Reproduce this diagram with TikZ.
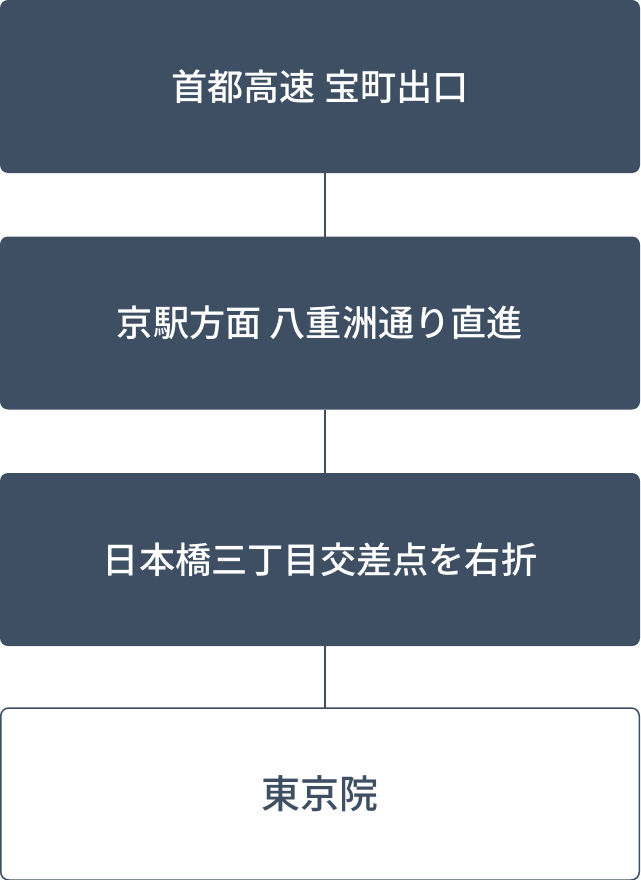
\documentclass[tikz,border=0pt]{standalone}
\usepackage{fontspec}
\newfontfamily\jpfont{Noto Sans CJK JP}[BoldFont={Noto Sans CJK JP Medium}]
\usetikzlibrary{positioning}
\definecolor{slate}{HTML}{3E4F63}
\begin{document}
\begin{tikzpicture}[x=1pt, y=1pt,
    stepbox/.style={fill=slate, text=white, rounded corners=8pt, minimum width=640pt,
      minimum height=173pt, inner sep=0pt, outer sep=0pt, font=\jpfont\bfseries\fontsize{36.2}{40}\selectfont},
    goalbox/.style={draw=slate, line width=1.5pt, fill=white, text=slate, rounded corners=8pt,
      minimum width=638.5pt, minimum height=172pt, inner sep=0pt, outer sep=0pt,
      font=\jpfont\bfseries\fontsize{39}{44}\selectfont},
    link/.style={draw=slate, line width=1.3pt}]
        \def \gap {63.5pt}

        \useasboundingbox (0,0) rectangle (640,-880);

        \node[stepbox, anchor=north west] (exit) at (0,0) {首都高速 宝町出口};
        \node[stepbox, below=\gap of exit] (straight) {京駅方面 八重洲通り直進};
        \node[stepbox, below=\gap of straight] (turn) {日本橋三丁目交差点を右折};
        \node[goalbox, below=62pt of turn] (clinic) {東京院};

        \path[link] ([xshift=5pt]exit.south) -- ([xshift=5pt]straight.north);
        \path[link] ([xshift=5pt]straight.south) -- ([xshift=5pt]turn.north);
        \path[link] ([xshift=5pt]turn.south) -- ([xshift=5pt]clinic.north);
      \end{tikzpicture}
\end{document}
